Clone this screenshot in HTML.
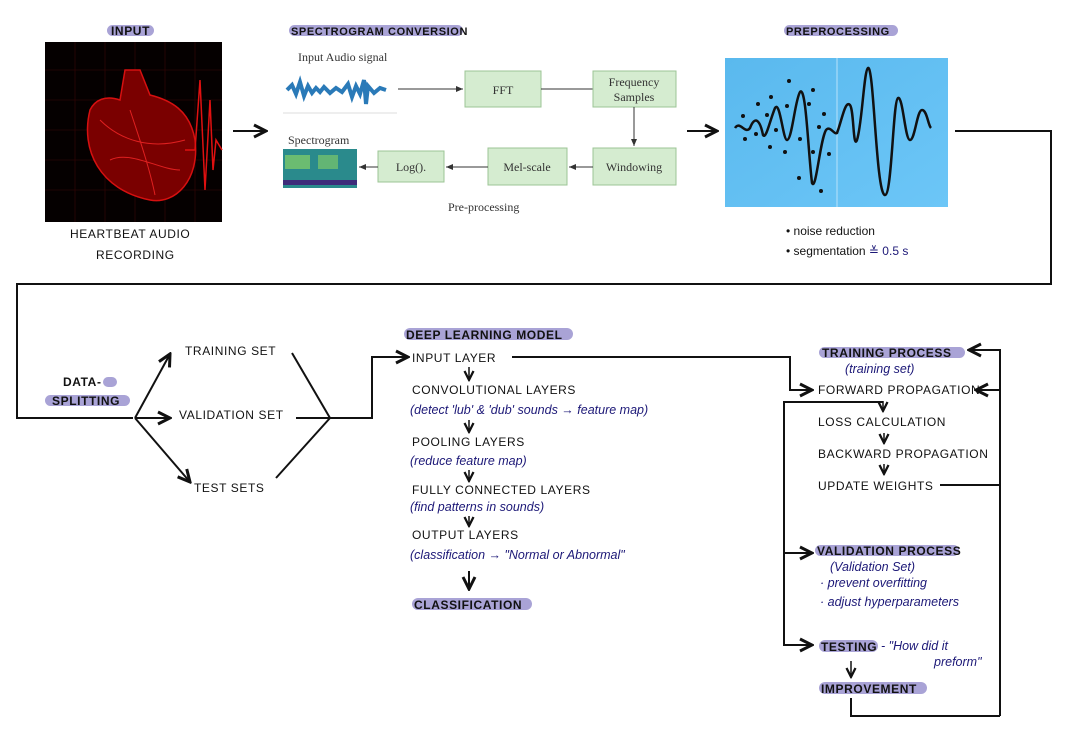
<!DOCTYPE html>
<html><head><meta charset="utf-8"><style>
html,body{margin:0;padding:0;background:#fff;}
svg{display:block;font-family:"Liberation Sans",sans-serif;}
.h{font-size:12px;fill:#111;letter-spacing:0.6px;}
.b{font-size:12.5px;fill:#1c1877;font-style:italic;}
.ln{stroke:#111;stroke-width:2;fill:none;}
.pill{fill:#a9a3d6;}
.gb{fill:#d5ecd0;stroke:#9cc596;stroke-width:1;}
.st{font-family:"Liberation Serif",serif;font-size:12px;fill:#333;}
.pt{font-weight:600;}
</style></head><body>
<svg width="1068" height="735" viewBox="0 0 1068 735">
<defs>
<marker id="ar" markerWidth="8" markerHeight="8" refX="7" refY="4" orient="auto"><path d="M1,1 L7,4 L1,7" stroke="#111" stroke-width="1.5" fill="none"/></marker>
<marker id="ag" markerWidth="8" markerHeight="8" refX="7" refY="4" orient="auto"><path d="M0,1 L7,4 L0,7z" fill="#333"/></marker>
<linearGradient id="bg" x1="0" y1="0" x2="1" y2="1"><stop offset="0" stop-color="#5ab9ee"/><stop offset="1" stop-color="#6cc6f7"/></linearGradient>
</defs>

<g>
<rect class="pill" x="107" y="25" width="47" height="11" rx="5.5"/>
<text class="h pt" x="111" y="35">INPUT</text>
<rect x="45" y="42" width="177" height="180" fill="#050000"/>
<g stroke="#3a0606" stroke-width="0.6">
<line x1="45" y1="70" x2="222" y2="70"/><line x1="45" y1="100" x2="222" y2="100"/><line x1="45" y1="130" x2="222" y2="130"/><line x1="45" y1="160" x2="222" y2="160"/><line x1="45" y1="190" x2="222" y2="190"/>
<line x1="75" y1="42" x2="75" y2="222"/><line x1="105" y1="42" x2="105" y2="222"/><line x1="135" y1="42" x2="135" y2="222"/><line x1="165" y1="42" x2="165" y2="222"/><line x1="195" y1="42" x2="195" y2="222"/>
</g>
<path d="M90,110 C80,150 100,190 150,200 C175,205 200,180 195,140 C190,110 170,100 150,95 L140,70 L125,70 L120,100 C105,95 95,100 90,110Z" fill="#7a0000" stroke="#d61010" stroke-width="1.5"/>
<path d="M100,120 C120,140 150,150 185,140 M110,160 C130,150 160,170 180,170 M130,110 C140,140 150,170 155,195" stroke="#e02020" stroke-width="1" fill="none"/>
<path d="M185,150 L195,150 L200,80 L205,190 L210,100 L213,170 L216,140 L222,150" stroke="#e01010" stroke-width="1.5" fill="none"/>
<text class="h" x="70" y="238">HEARTBEAT AUDIO</text>
<text class="h" x="96" y="259">RECORDING</text>
</g>
<line class="ln" x1="233" y1="131" x2="266" y2="131" marker-end="url(#ar)"/>

<g>
<rect class="pill" x="289" y="25" width="174" height="11" rx="5.5"/>
<text class="h pt" x="291" y="35" style="font-size:11px">SPECTROGRAM CONVERSION</text>
<text class="st" x="298" y="61">Input Audio signal</text>
<path d="M287,90 L292,85 L296,94 L300,82 L304,96 L308,86 L312,93 L316,88 L320,92 L324,87 L330,93 L336,88 L342,92 L348,84 L352,97 L356,86 L360,94 L364,80 L366,104 L368,86 L374,93 L380,88 L386,90" stroke="#2a7ab8" stroke-width="4" fill="none"/>
<line x1="283" y1="113" x2="397" y2="113" stroke="#ddd"/>
<line x1="398" y1="89" x2="463" y2="89" stroke="#333" marker-end="url(#ag)"/>
<rect class="gb" x="465" y="71" width="76" height="36"/>
<text class="st" x="503" y="94" text-anchor="middle">FFT</text>
<line x1="541" y1="89" x2="593" y2="89" stroke="#333"/>
<rect class="gb" x="593" y="71" width="83" height="36"/>
<text class="st" x="634" y="86" text-anchor="middle">Frequency</text>
<text class="st" x="634" y="101" text-anchor="middle">Samples</text>
<line x1="634" y1="107" x2="634" y2="146" stroke="#333" marker-end="url(#ag)"/>
<rect class="gb" x="593" y="148" width="83" height="37"/>
<text class="st" x="634" y="171" text-anchor="middle">Windowing</text>
<line x1="593" y1="167" x2="569" y2="167" stroke="#333" marker-end="url(#ag)"/>
<rect class="gb" x="488" y="148" width="79" height="37"/>
<text class="st" x="527" y="171" text-anchor="middle">Mel-scale</text>
<line x1="488" y1="167" x2="446" y2="167" stroke="#333" marker-end="url(#ag)"/>
<rect class="gb" x="378" y="151" width="66" height="31"/>
<text class="st" x="411" y="171" text-anchor="middle">Log().</text>
<line x1="378" y1="167" x2="359" y2="167" stroke="#333" marker-end="url(#ag)"/>
<text class="st" x="288" y="144">Spectrogram</text>
<rect x="283" y="149" width="74" height="39" fill="#2a8a8c"/>
<rect x="285" y="155" width="25" height="14" fill="#7cc86a" opacity="0.8"/>
<rect x="318" y="155" width="20" height="14" fill="#7cc86a" opacity="0.7"/>
<rect x="283" y="180" width="74" height="5" fill="#3d2c7a"/>
<text class="st" x="448" y="211">Pre-processing</text>
</g>
<line class="ln" x1="687" y1="131" x2="717" y2="131" marker-end="url(#ar)"/>

<g>
<rect class="pill" x="784" y="25" width="114" height="11" rx="5.5"/>
<text class="h pt" x="786" y="35" style="font-size:11px">PREPROCESSING</text>
<rect x="725" y="58" width="223" height="149" fill="url(#bg)"/>
<line x1="837" y1="58" x2="837" y2="207" stroke="#b8e2fa" stroke-width="1"/>
<path d="M735,128 C740,120 745,135 750,128 C755,115 760,120 763,135 C766,140 770,120 775,108 C780,100 783,140 787,140 C792,140 795,100 800,92 C806,85 808,150 812,183 C816,192 820,140 826,130 C830,125 834,135 837,133 C842,120 845,100 850,105 C854,110 853,150 857,140 C862,125 864,70 868,68 C874,65 876,195 885,195 C892,195 893,100 898,98 C903,96 905,140 910,140 C915,140 917,110 922,110 C927,110 928,125 931,128" stroke="#111" stroke-width="2.5" fill="none"/>
<g fill="#111">
<circle cx="743" cy="116" r="2"/><circle cx="745" cy="139" r="2"/><circle cx="758" cy="104" r="2"/><circle cx="756" cy="134" r="2"/><circle cx="771" cy="97" r="2"/><circle cx="767" cy="115" r="2"/><circle cx="776" cy="130" r="2"/><circle cx="789" cy="81" r="2"/><circle cx="787" cy="106" r="2"/><circle cx="785" cy="152" r="2"/><circle cx="770" cy="147" r="2"/><circle cx="813" cy="90" r="2"/><circle cx="809" cy="104" r="2"/><circle cx="800" cy="139" r="2"/><circle cx="813" cy="152" r="2"/><circle cx="824" cy="114" r="2"/><circle cx="819" cy="127" r="2"/><circle cx="829" cy="154" r="2"/><circle cx="799" cy="178" r="2"/><circle cx="821" cy="191" r="2"/>
</g>
<text class="h" x="786" y="235" style="letter-spacing:0">• noise reduction</text>
<text class="h" x="786" y="255" style="letter-spacing:0">• segmentation <tspan fill="#1c1877">≚ 0.5 s</tspan></text>
</g>

<polyline class="ln" points="955,131 1051,131 1051,284 17,284 17,418 133,418"/>

<g>
<rect class="pill" x="103" y="377" width="14" height="10" rx="5"/>
<text class="h pt" x="63" y="386">DATA-</text>
<rect class="pill" x="45" y="395" width="85" height="11" rx="5.5"/>
<text class="h pt" x="52" y="405">SPLITTING</text>
<line class="ln" x1="135" y1="418" x2="170" y2="354" marker-end="url(#ar)"/>
<line class="ln" x1="135" y1="418" x2="170" y2="418" marker-end="url(#ar)"/>
<line class="ln" x1="135" y1="418" x2="190" y2="482" marker-end="url(#ar)"/>
<text class="h" x="185" y="355">TRAINING SET</text>
<text class="h" x="179" y="419">VALIDATION SET</text>
<text class="h" x="194" y="492">TEST SETS</text>
<line class="ln" x1="292" y1="353" x2="330" y2="418"/>
<line class="ln" x1="296" y1="418" x2="330" y2="418"/>
<line class="ln" x1="276" y1="478" x2="330" y2="418"/>
<polyline class="ln" points="330,418 372,418 372,357 408,357" marker-end="url(#ar)"/>
</g>

<g>
<rect class="pill" x="404" y="328" width="169" height="12" rx="6"/>
<text class="h pt" x="406" y="339">DEEP LEARNING MODEL</text>
<text class="h" x="412" y="362">INPUT LAYER</text>
<polyline class="ln" points="512,357 790,357 790,390 812,390" marker-end="url(#ar)"/>
<line class="ln" x1="469" y1="367" x2="469" y2="380" marker-end="url(#ar)" style="stroke-width:1.5"/>
<text class="h" x="412" y="394">CONVOLUTIONAL LAYERS</text>
<text class="b" x="410" y="414">(detect 'lub' &amp; 'dub' sounds → feature map)</text>
<line class="ln" x1="469" y1="420" x2="469" y2="432" marker-end="url(#ar)" style="stroke-width:1.5"/>
<text class="h" x="412" y="446">POOLING LAYERS</text>
<text class="b" x="410" y="465">(reduce feature map)</text>
<line class="ln" x1="469" y1="470" x2="469" y2="481" marker-end="url(#ar)" style="stroke-width:1.5"/>
<text class="h" x="412" y="494">FULLY CONNECTED LAYERS</text>
<text class="b" x="410" y="511">(find patterns in sounds)</text>
<line class="ln" x1="469" y1="516" x2="469" y2="526" marker-end="url(#ar)" style="stroke-width:1.5"/>
<text class="h" x="412" y="539">OUTPUT LAYERS</text>
<text class="b" x="410" y="559">(classification → "Normal or Abnormal"</text>
<line class="ln" x1="469" y1="571" x2="469" y2="589" marker-end="url(#ar)"/>
<rect class="pill" x="412" y="598" width="120" height="12" rx="6"/>
<text class="h pt" x="414" y="609">CLASSIFICATION</text>
</g>

<g>
<rect class="pill" x="819" y="347" width="146" height="11" rx="5.5"/>
<text class="h pt" x="822" y="357">TRAINING PROCESS</text>
<polyline class="ln" points="1000,716 1000,350 969,350" marker-end="url(#ar)"/>
<polyline class="ln" points="851,698 851,716 1000,716"/>
<text class="b" x="845" y="373">(training set)</text>
<text class="h" x="818" y="394">FORWARD PROPAGATION</text>
<polyline class="ln" points="940,485 1000,485 1000,390 976,390" marker-end="url(#ar)"/>
<polyline class="ln" points="883,402 784,402 784,645 812,645" marker-end="url(#ar)"/>
<line class="ln" x1="784" y1="553" x2="812" y2="553" marker-end="url(#ar)"/>
<line class="ln" x1="883" y1="401" x2="883" y2="411" marker-end="url(#ar)" style="stroke-width:1.5"/>
<text class="h" x="818" y="426">LOSS CALCULATION</text>
<line class="ln" x1="884" y1="433" x2="884" y2="443" marker-end="url(#ar)" style="stroke-width:1.5"/>
<text class="h" x="818" y="458">BACKWARD PROPAGATION</text>
<line class="ln" x1="884" y1="464" x2="884" y2="474" marker-end="url(#ar)" style="stroke-width:1.5"/>
<text class="h" x="818" y="490">UPDATE WEIGHTS</text>
</g>

<g>
<rect class="pill" x="815" y="545" width="144" height="11" rx="5.5"/>
<text class="h pt" x="817" y="555">VALIDATION PROCESS</text>
<text class="b" x="830" y="571">(Validation Set)</text>
<text class="b" x="820" y="587">· prevent overfitting</text>
<text class="b" x="820" y="606">· adjust hyperparameters</text>
<rect class="pill" x="819" y="640" width="59" height="12" rx="6"/>
<text class="h pt" x="821" y="651">TESTING</text>
<text class="b" x="881" y="650">- "How did it</text>
<text class="b" x="934" y="666">preform"</text>
<line class="ln" x1="851" y1="661" x2="851" y2="677" marker-end="url(#ar)" style="stroke-width:1.5"/>
<rect class="pill" x="819" y="682" width="108" height="12" rx="6"/>
<text class="h pt" x="821" y="693">IMPROVEMENT</text>
</g>
</svg>
</body></html>
